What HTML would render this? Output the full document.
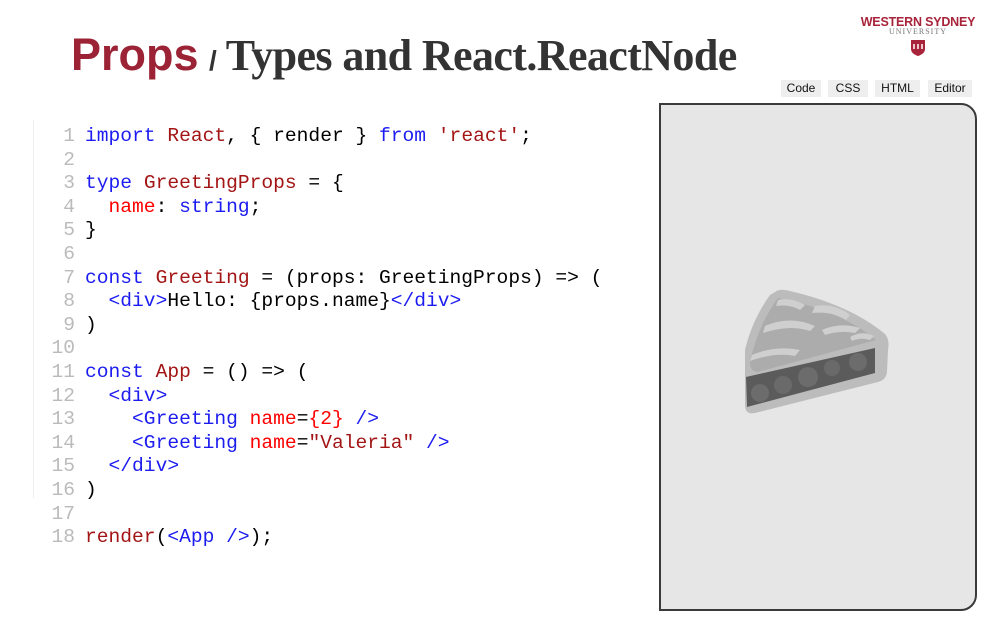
<!DOCTYPE html>
<html><head><meta charset="utf-8"><style>
body{margin:0;width:1000px;height:624px;background:#fff;position:relative;overflow:hidden;font-family:"Liberation Sans",sans-serif}
.title{position:absolute;left:71px;top:29px;font-family:"Liberation Serif",serif;font-weight:bold;font-size:44px;color:#333;white-space:nowrap;letter-spacing:-0.6px}
.title .p{color:#9b2335;font-family:"Liberation Sans",sans-serif;font-size:45px;letter-spacing:0}
.title .s{font-size:28px;font-family:"Liberation Sans",sans-serif}
.logo{position:absolute;left:857px;top:15px;width:122px;text-align:center}
.logo .a{color:#a8243a;font-weight:bold;font-size:12.5px;letter-spacing:-0.2px}
.logo .b{color:#777;font-family:"Liberation Serif",serif;font-size:8px;letter-spacing:1px;margin-top:-2px}
.btn{position:absolute;top:80px;height:17px;background:#eee;font-size:12px;line-height:17px;text-align:center;color:#111}
.panel{position:absolute;left:659px;top:103px;width:314px;height:504px;border:2px solid #3a3a3a;border-radius:0 16px 16px 0;background:#e6e6e6}
.code{position:absolute;left:33px;top:120px;border-left:1px solid #eee;height:378px}
pre{margin:0;position:absolute;left:33px;top:125px;font-family:"Liberation Mono",monospace;font-size:19.6px;line-height:23.6px;color:#000}
.n{color:#bbb;display:inline-block;width:42px;text-align:right;margin-right:10px}
.k{color:#1c1cf0}.d{color:#a31515}.r{color:#f00}
</style></head><body>
<div class="title"><span class="p">Props</span> <span class="s">/</span> Types and React.ReactNode</div>
<div class="logo"><div class="a">WESTERN SYDNEY</div><div class="b">UNIVERSITY</div>
<svg width="16" height="18" viewBox="0 0 16 18" style="margin-top:3px"><path d="M1 1h14v9c0 4-4 6-7 7-3-1-7-3-7-7z" fill="#a8243a"/><path d="M4 5v5M8 5v5M12 5v5" stroke="#fff" stroke-width="1.5"/></svg></div>
<div class="btn" style="left:781px;width:40px">Code</div>
<div class="btn" style="left:828px;width:40px">CSS</div>
<div class="btn" style="left:875px;width:45px">HTML</div>
<div class="btn" style="left:928px;width:44px">Editor</div>
<div class="panel"></div>
<svg style="position:absolute;left:0;top:0" width="1000" height="624" viewBox="0 0 1000 624">
<path d="M775 292 Q780 288 790 291 Q850 305 885 334 Q890 340 888 350 L887 372 Q886 380 878 382 L755 413 Q745 415 745 405 L745 350 Q752 320 770 295 Z" fill="#bcbcbc"/>
<path d="M778 298 Q840 310 876 340 L758 372 Q750 372 750 362 Q758 325 778 298 Z" fill="#acacac"/>
<path d="M778 300 Q790 297 805 305 L800 310 Q790 304 776 306Z M765 326 Q790 315 815 326 L810 331 Q790 324 763 333Z M752 355 Q775 345 800 350 L795 356 Q775 352 750 361Z M815 306 Q835 303 850 315 L846 320 Q832 311 812 313Z M822 330 Q840 322 860 328 L855 333 Q840 330 825 335Z M850 337 Q862 330 874 336 L870 340 Q860 337 852 341Z" fill="#cfcfcf"/>
<path d="M746 377 L875 348 L875 373 L747 407 Z" fill="#5b5b5b"/>
<circle cx="760" cy="393" r="9" fill="#6c6c6c"/><circle cx="783" cy="385" r="9" fill="#6a6a6a"/><circle cx="808" cy="377" r="10" fill="#6c6c6c"/><circle cx="832" cy="368" r="8" fill="#6a6a6a"/><circle cx="858" cy="362" r="9" fill="#6c6c6c"/>
</svg>
<div class="code"></div>
<pre><span class="n">1</span><span class="k">import</span> <span class="d">React</span>, { render } <span class="k">from</span> <span class="d">'react'</span>;
<span class="n">2</span>
<span class="n">3</span><span class="k">type</span> <span class="d">GreetingProps</span> = {
<span class="n">4</span>  <span class="r">name</span>: <span class="k">string</span>;
<span class="n">5</span>}
<span class="n">6</span>
<span class="n">7</span><span class="k">const</span> <span class="d">Greeting</span> = (props: GreetingProps) =&gt; (
<span class="n">8</span>  <span class="k">&lt;div&gt;</span>Hello: {props.name}<span class="k">&lt;/div&gt;</span>
<span class="n">9</span>)
<span class="n">10</span>
<span class="n">11</span><span class="k">const</span> <span class="d">App</span> = () =&gt; (
<span class="n">12</span>  <span class="k">&lt;div&gt;</span>
<span class="n">13</span>    <span class="k">&lt;Greeting</span> <span class="r">name</span>=<span class="r">{2}</span> <span class="k">/&gt;</span>
<span class="n">14</span>    <span class="k">&lt;Greeting</span> <span class="r">name</span>=<span class="d">"Valeria"</span> <span class="k">/&gt;</span>
<span class="n">15</span>  <span class="k">&lt;/div&gt;</span>
<span class="n">16</span>)
<span class="n">17</span>
<span class="n">18</span><span class="d">render</span>(<span class="k">&lt;App /&gt;</span>);</pre>
</body></html>
